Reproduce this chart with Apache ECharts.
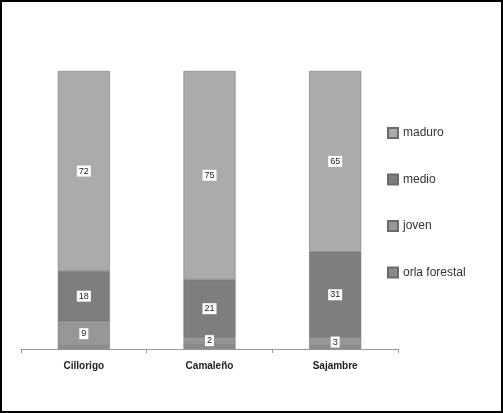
<!DOCTYPE html>
<html>
<head>
<meta charset="utf-8">
<script src="https://cdn.jsdelivr.net/npm/echarts@6/dist/echarts.min.js"></script>
<style>
  html, body { margin: 0; padding: 0; background: #fff; }
  #main { width: 503px; height: 413px; box-sizing: border-box; border: 2px solid #000; }
</style>
</head>
<body>
<div id="main"></div>
<script>
var categories = ['Cillorigo', 'Camaleño', 'Sajambre']
var maduro = [72, 75, 65]
var medio = [18, 21, 31]
var joven = [9, 2, 3]
var orla = [1, 2, 1]

var chart = echarts.init(document.getElementById('main'))

var label = {
  show: true,
  position: 'inside',
  color: '#222',
  fontSize: 9,
  fontFamily: 'Liberation Sans',
  backgroundColor: '#fff',
  padding: [1, 2]
}

function bar (name, data, color, showLabel) {
  return {
    name: name,
    type: 'bar',
    stack: 'total',
    barWidth: 52,
    data: data,
    label: Object.assign({}, label, { show: showLabel }),
    itemStyle: { color: color, borderColor: '#6a6a6a', borderWidth: 0.5 }
  }
}

var option = {
  animation: false,
  grid: { left: 19, right: 103, top: 69, bottom: 62 },
  legend: {
    orient: 'vertical',
    left: 385,
    top: 125,
    padding: 0,
    itemGap: 34.5,
    itemWidth: 10,
    itemHeight: 10,
    icon: 'rect',
    textStyle: { fontSize: 12, color: '#333', fontFamily: 'Liberation Sans' },
    data: ['maduro', 'medio', 'joven', 'orla forestal']
  },
  xAxis: {
    type: 'category',
    data: categories,
    axisLine: { lineStyle: { color: '#999' } },
    axisTick: { show: true, length: 4, lineStyle: { color: '#999' } },
    axisLabel: { color: '#222', fontSize: 10, fontWeight: 'bold', fontFamily: 'Liberation Sans', margin: 12 }
  },
  yAxis: {
    type: 'value',
    min: 0,
    max: 100,
    show: false
  },
  series: [
    bar('orla forestal', orla, '#8a8a8a', false),
    bar('joven', joven, '#979797', true),
    bar('medio', medio, '#7e7e7e', true),
    bar('maduro', maduro, '#ababab', true)
  ]
}

option && chart.setOption(option)
</script>
</body>
</html>
